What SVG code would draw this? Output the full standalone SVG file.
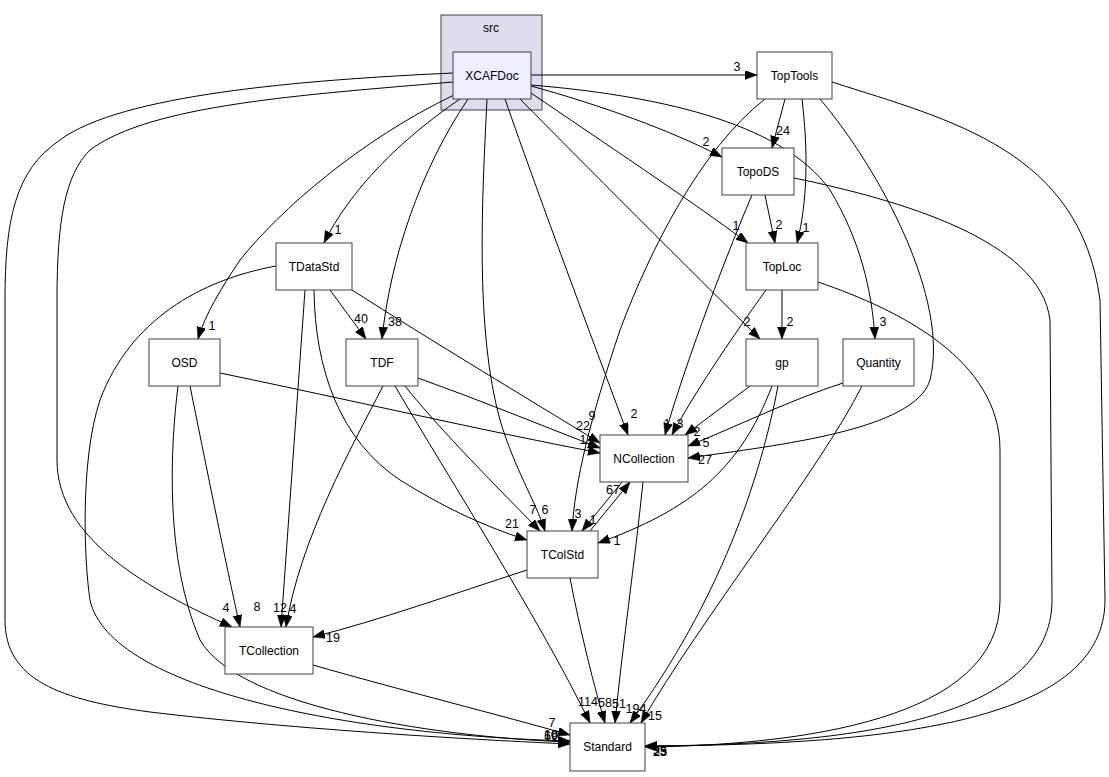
<svg xmlns="http://www.w3.org/2000/svg" width="1109" height="777" viewBox="0 0 1109 777">
<style>
.n rect{fill:#ffffff;stroke:#404040;stroke-width:1}
.t{font-family:"Liberation Sans",Arial,sans-serif;font-size:12px;fill:#000;text-anchor:middle}
.e path{fill:none;stroke:#000;stroke-width:1;marker-end:url(#ah)}
.l{font-family:"Liberation Sans",Arial,sans-serif;font-size:12.5px;fill:#000;text-anchor:middle}
</style>
<defs>
<marker id="ah" markerUnits="userSpaceOnUse" markerWidth="13" markerHeight="10" refX="12" refY="4.5" orient="auto">
<path d="M0,0 L12,4.5 L0,9 z" fill="#000" stroke="#000" stroke-width="0.5"/>
</marker>
</defs>
<rect width="1109" height="777" fill="#ffffff"/>
<g id="cluster_src">
<rect x="441" y="15" width="101" height="95" fill="#ddddee" stroke="#404040"/>
<text class="t" x="491" y="32">src</text>
</g>
<g id="connectors" class="e">
<path d="M531,75 L757,75"/>
<path d="M531,86 C600,105 670,130 722,157"/>
<path d="M531,93 C600,140 690,200 748,243"/>
<path d="M520,99 C580,160 690,270 760,339"/>
<path d="M505,99 C540,200 600,360 628,435"/>
<path d="M487,99 C482,200 475,330 500,420 C515,470 535,500 545,531"/>
<path d="M468,99 C420,170 390,260 382,339"/>
<path d="M460,99 C400,140 350,190 324,243"/>
<path d="M454,95 C360,140 280,210 240,260 C220,290 205,315 198,339"/>
<path d="M531,85 C650,95 780,120 830,190 C860,240 872,290 875,339"/>
<path d="M453,82 C300,95 150,105 90,150 C65,175 57,220 57,300 L57,460 C57,540 150,590 232,627"/>
<path d="M453,73 C300,80 120,95 60,140 C15,170 5,220 5,300 L5,620 C5,680 60,700 150,712 C300,730 480,740 570,744"/>
<path d="M785,99 L772,148"/>
<path d="M802,99 C808,150 808,200 797,243"/>
<path d="M765,99 C700,150 650,250 620,330 C590,420 575,480 572,531"/>
<path d="M820,99 C880,170 950,300 930,380 C915,430 780,445 688,458"/>
<path d="M832,82 C950,120 1080,150 1100,300 L1105,600 C1105,720 900,745 645,746"/>
<path d="M765,195 L775,243"/>
<path d="M752,195 C720,270 680,380 665,435"/>
<path d="M794,178 C900,200 1040,240 1050,320 L1052,600 C1052,720 850,745 645,746"/>
<path d="M782,290 L782,339"/>
<path d="M766,290 C730,340 690,400 672,435"/>
<path d="M818,282 C900,310 1000,360 1000,450 L1000,600 C1000,720 800,745 645,747"/>
<path d="M750,386 L685,435"/>
<path d="M772,386 C740,470 690,510 598,543"/>
<path d="M778,386 C760,480 720,600 630,723"/>
<path d="M843,383 C790,400 740,425 688,446"/>
<path d="M862,386 C820,470 700,620 641,723"/>
<path d="M330,290 L366,339"/>
<path d="M352,290 C430,340 530,400 600,443"/>
<path d="M314,290 C315,370 340,440 400,480 C440,505 480,525 527,540"/>
<path d="M305,290 L281,627"/>
<path d="M276,266 C200,280 130,320 100,400 C80,460 84,560 90,600 C110,690 350,735 570,741"/>
<path d="M418,378 C480,400 540,425 600,448"/>
<path d="M405,386 C440,430 500,490 540,531"/>
<path d="M383,386 C350,450 300,540 286,627"/>
<path d="M395,386 C450,480 540,620 590,723"/>
<path d="M220,373 C350,400 480,430 600,453"/>
<path d="M190,386 C205,460 225,560 240,627"/>
<path d="M178,386 C170,450 165,560 200,640 C240,710 450,738 570,742"/>
<path d="M622,482 L582,531"/>
<path d="M590,531 L630,482"/>
<path d="M643,482 C635,560 622,650 615,723"/>
<path d="M527,570 C450,595 380,620 313,637"/>
<path d="M570,578 C580,630 595,690 605,723"/>
<path d="M313,665 C400,690 500,715 570,735"/>
</g>
<g id="edge_labels">
<text class="l" x="737" y="71">3</text>
<text class="l" x="706" y="146">2</text>
<text class="l" x="736" y="230">1</text>
<text class="l" x="747" y="326">2</text>
<text class="l" x="634" y="418">2</text>
<text class="l" x="545" y="514">6</text>
<text class="l" x="395" y="326">38</text>
<text class="l" x="338" y="234">1</text>
<text class="l" x="212" y="330">1</text>
<text class="l" x="883" y="326">3</text>
<text class="l" x="226" y="612">4</text>
<text class="l" x="783" y="135">24</text>
<text class="l" x="806" y="232">1</text>
<text class="l" x="578" y="518">3</text>
<text class="l" x="705" y="464">27</text>
<text class="l" x="779" y="229">2</text>
<text class="l" x="667" y="428">1</text>
<text class="l" x="790" y="326">2</text>
<text class="l" x="680" y="428">3</text>
<text class="l" x="697" y="436">2</text>
<text class="l" x="617" y="545">1</text>
<text class="l" x="636" y="713">194</text>
<text class="l" x="706" y="447">5</text>
<text class="l" x="655" y="720">15</text>
<text class="l" x="361" y="323">40</text>
<text class="l" x="592" y="420">9</text>
<text class="l" x="512" y="528">21</text>
<text class="l" x="280" y="612">12</text>
<text class="l" x="583" y="430">22</text>
<text class="l" x="533" y="514">7</text>
<text class="l" x="293" y="613">4</text>
<text class="l" x="588" y="706">114</text>
<text class="l" x="583" y="444">1</text>
<text class="l" x="257" y="611">8</text>
<text class="l" x="593" y="524">1</text>
<text class="l" x="613" y="494">67</text>
<text class="l" x="619" y="708">51</text>
<text class="l" x="333" y="642">19</text>
<text class="l" x="605" y="707">58</text>
<text class="l" x="552" y="727">7</text>
<text class="l" x="551" y="739">10</text>
<text class="l" x="551" y="739">16</text>
<text class="l" x="551" y="740">69</text>
<text class="l" x="660" y="756">23</text>
<text class="l" x="660" y="756">25</text>
<text class="l" x="660" y="755">35</text>
</g>
<g id="XCAFDoc" class="n"><rect x="453" y="52" width="78" height="47" style="fill:#eeeeff"/><text class="t" x="492" y="80">XCAFDoc</text></g>
<g id="TopTools" class="n"><rect x="757" y="52" width="75" height="47"/><text class="t" x="794.5" y="80">TopTools</text></g>
<g id="TopoDS" class="n"><rect x="722" y="148" width="72" height="47"/><text class="t" x="758" y="176">TopoDS</text></g>
<g id="TopLoc" class="n"><rect x="746" y="243" width="72" height="47"/><text class="t" x="782" y="271">TopLoc</text></g>
<g id="TDataStd" class="n"><rect x="276" y="243" width="76" height="47"/><text class="t" x="314" y="271">TDataStd</text></g>
<g id="OSD" class="n"><rect x="149" y="339" width="71" height="47"/><text class="t" x="184.5" y="367">OSD</text></g>
<g id="TDF" class="n"><rect x="346" y="339" width="72" height="47"/><text class="t" x="382" y="367">TDF</text></g>
<g id="gp" class="n"><rect x="746" y="339" width="72" height="47"/><text class="t" x="782" y="367">gp</text></g>
<g id="Quantity" class="n"><rect x="843" y="339" width="71" height="47"/><text class="t" x="878.5" y="367">Quantity</text></g>
<g id="NCollection" class="n"><rect x="600" y="435" width="88" height="47"/><text class="t" x="644" y="463">NCollection</text></g>
<g id="TColStd" class="n"><rect x="527" y="531" width="71" height="47"/><text class="t" x="562.5" y="559">TColStd</text></g>
<g id="TCollection" class="n"><rect x="225" y="627" width="88" height="47"/><text class="t" x="269" y="655">TCollection</text></g>
<g id="Standard" class="n"><rect x="570" y="723" width="75" height="48"/><text class="t" x="607.5" y="751">Standard</text></g>
</svg>
